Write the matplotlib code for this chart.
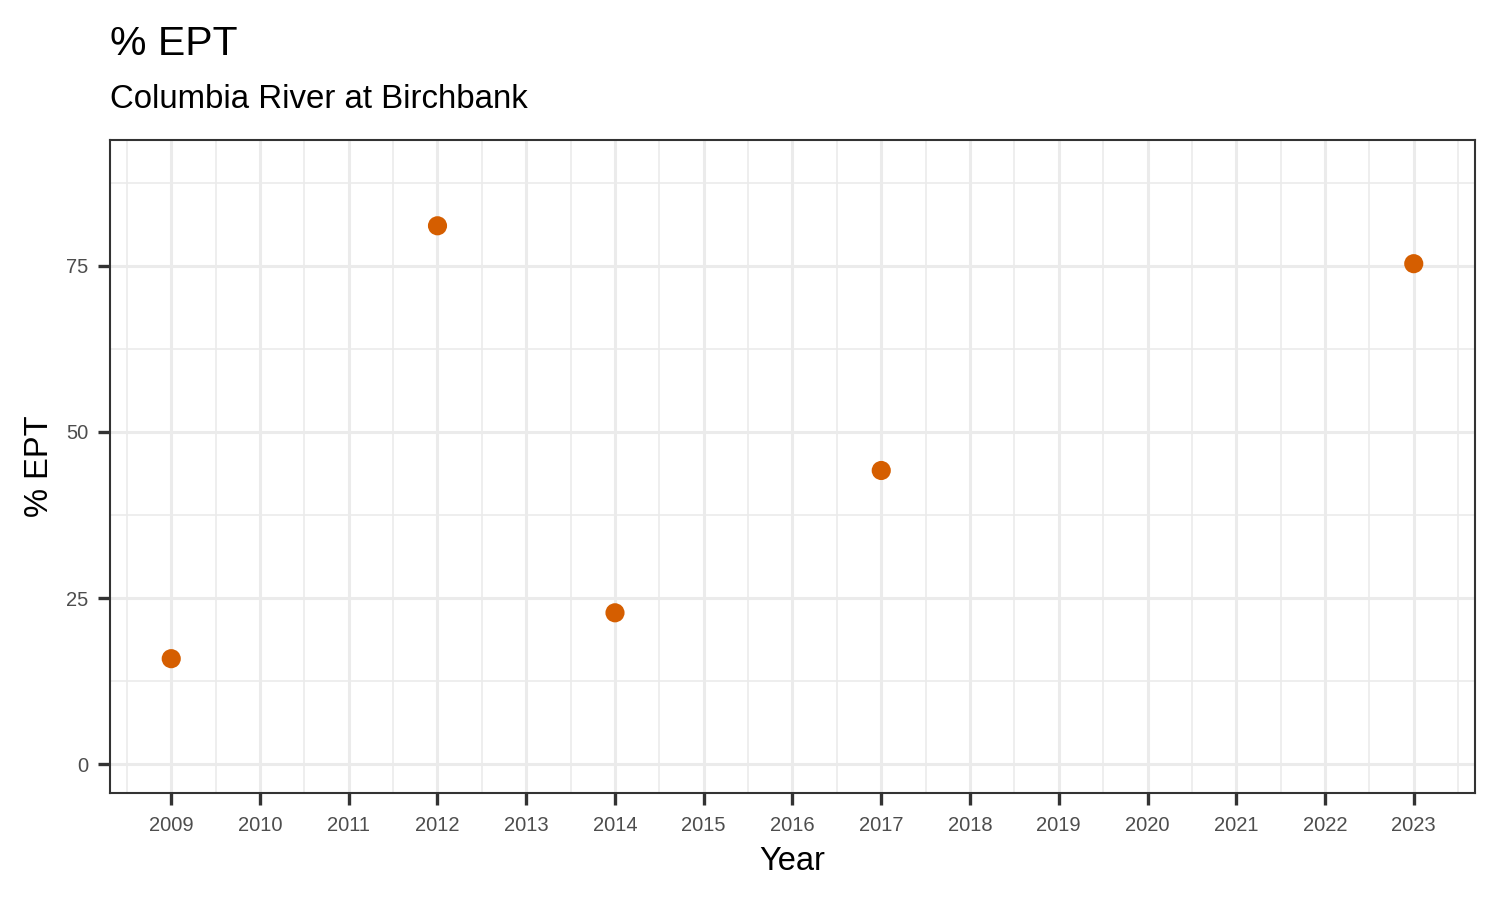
import matplotlib.pyplot as plt
import numpy as np

# data
years = [2009, 2012, 2014, 2017, 2023]
ept_pct = [15.9, 81.0, 22.8, 44.2, 75.3]
x_ticks = list(range(2009, 2024))
y_ticks = [0, 25, 50, 75]

plt.rcParams['font.family'] = ['Liberation Sans', 'DejaVu Sans']

W, H = 1500, 900
fig = plt.figure(figsize=(15, 9), dpi=100)
# panel placed in pixel terms
ax = fig.add_axes([110 / W, 1 - 793 / H, (1475 - 110) / W, (793 - 140) / H])

ax.set_xlim(2008.31, 2023.69)
ax.set_ylim(-4.3, 93.9)

ax.set_xticks(x_ticks)
ax.set_xticklabels([str(y) for y in x_ticks])
ax.set_xticks(np.arange(2008.5, 2024, 1.0), minor=True)
ax.set_yticks(y_ticks)
ax.set_yticks([12.5, 37.5, 62.5, 87.5], minor=True)

ax.grid(which='major', color='#EBEBEB', linewidth=2.2, zorder=0)
ax.grid(which='minor', color='#EBEBEB', linewidth=1.2, zorder=0)
ax.set_axisbelow(True)

ax.tick_params(which='major', length=8.6, width=2.4, color='#333333',
               labelsize=14.5, labelcolor='#4D4D4D')
ax.tick_params(axis='x', which='major', pad=8)
ax.tick_params(axis='y', which='major', pad=7)
ax.tick_params(which='minor', length=0)

for s in ax.spines.values():
    s.set_color('#333333')
    s.set_linewidth(1.5)

ax.scatter(years, ept_pct, s=190, color='#D55E00', edgecolors='none', zorder=3)

fig.text(110 / W, 1 - 55 / H, '% EPT', fontsize=29.5, va='baseline', ha='left')
fig.text(110 / W, 1 - 108 / H, 'Columbia River at Birchbank', fontsize=23.8,
         va='baseline', ha='left')
fig.text(792.5 / W, 1 - 870 / H, 'Year', fontsize=23.5, va='baseline', ha='center')
fig.text(40 / W, 1 - 466 / H, '% EPT', fontsize=23.5, rotation=90,
         va='center', ha='center')

fig.savefig('out.png', dpi=100)
